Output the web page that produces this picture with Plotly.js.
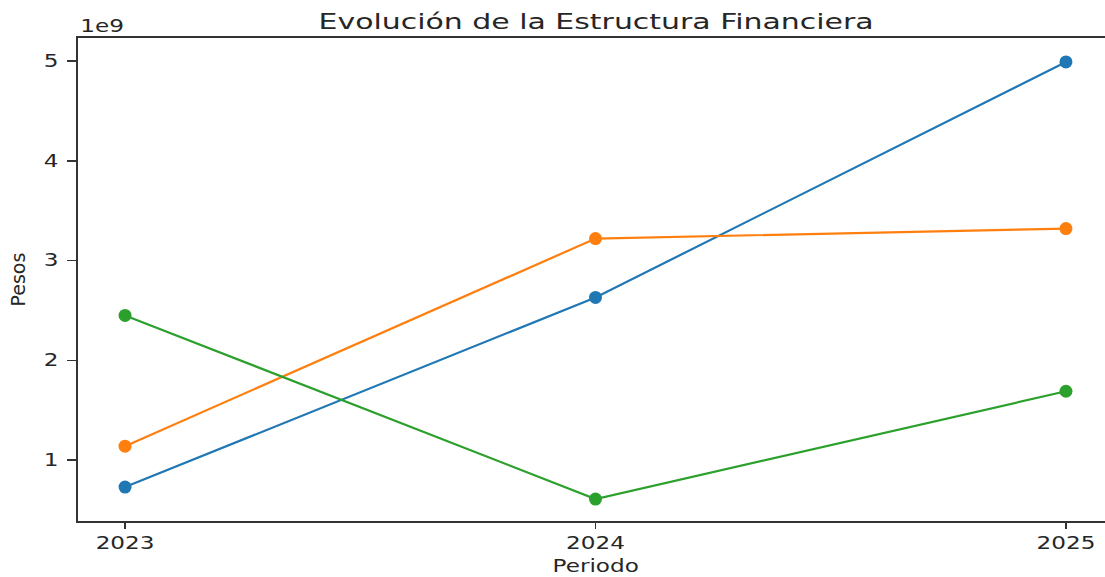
<!DOCTYPE html>
<html>
<head>
<meta charset="utf-8">
<script src="https://cdn.plot.ly/plotly-3.0.1.min.js"></script>
<style>html,body{margin:0;padding:0;background:#fff;}#chart{width:1105px;height:577px;}</style>
</head>
<body>
<div id="chart"></div>
<script>
const periodos = [2023, 2024, 2025];
const serieAzul = [0.73e9, 2.63e9, 4.99e9];
const serieNaranja = [1.14e9, 3.22e9, 3.32e9];
const serieVerde = [2.45e9, 0.61e9, 1.69e9];
const yTickVals = [1e9, 2e9, 3e9, 4e9, 5e9];
const yTickText = ['1', '2', '3', '4', '5'];
const xTickText = ['2023', '2024', '2025'];

const font = 'DejaVu Sans, sans-serif';
const ink = '#262626';
function tr(y, color, name) {
  return {x: periodos, y: y, name: name, type: 'scatter', mode: 'lines+markers',
    line: {color: color, width: 2.2}, marker: {color: color, size: 13}};
}
const data = [
  tr(serieAzul, '#1f77b4', 'Serie 1'),
  tr(serieNaranja, '#ff7f0e', 'Serie 2'),
  tr(serieVerde, '#2ca02c', 'Serie 3')
];
const layout = {
  width: 1105, height: 577,
  margin: {l: 78, r: 0, t: 38, b: 56},
  paper_bgcolor: '#fff', plot_bgcolor: '#fff',
  showlegend: false,
  font: {family: font, size: 17, color: ink},
  xaxis: {range: [2022.9, 2025.083], tickvals: periodos, ticktext: xTickText,
    showgrid: false, zeroline: false, showline: true, mirror: true, linecolor: '#333', linewidth: 2,
    ticks: 'outside', ticklen: 6, tickwidth: 1.5, tickcolor: '#333', tickfont: {family: font, size: 17, color: ink}},
  yaxis: {range: [0.39e9, 5.23e9], tickvals: yTickVals, ticktext: yTickText,
    showgrid: false, zeroline: false, showline: true, linecolor: '#333', linewidth: 2,
    ticks: 'outside', ticklen: 9, tickwidth: 1.5, tickcolor: '#333', ticklabelstandoff: 5,
    tickfont: {family: font, size: 17, color: ink}},
  annotations: [
    {text: 'Evolución de la Estructura Financiera', xref: 'x', x: 2024, yref: 'paper', y: 1,
      yanchor: 'bottom', yshift: 2, showarrow: false, font: {family: font, size: 22, color: ink}},
    {text: 'Periodo', xref: 'x', x: 2024, yref: 'paper', y: 0, yanchor: 'top', yshift: -33,
      showarrow: false, font: {family: font, size: 17, color: ink}},
    {text: 'Pesos', xref: 'paper', x: 0, xanchor: 'center', xshift: -61, yref: 'paper', y: 0.5,
      textangle: -90, showarrow: false, font: {family: font, size: 19, color: ink}},
    {text: '1e9', xref: 'paper', x: 0, xanchor: 'center', xshift: 24, yref: 'paper', y: 1, yanchor: 'bottom',
      showarrow: false, font: {family: font, size: 17, color: ink}}
  ]
};
function stretch(nodes, k) {
  nodes.forEach(t => {
    const L = t.getComputedTextLength();
    t.setAttribute('textLength', L * k);
    t.setAttribute('lengthAdjust', 'spacingAndGlyphs');
  });
}
Plotly.newPlot('chart', data, layout, {displayModeBar: false, staticPlot: true}).then(() => {
  const gd = document.getElementById('chart');
  stretch(gd.querySelectorAll('.xtick text, .ytick text'), 1.36);
  const ann = Array.from(gd.querySelectorAll('.annotation-text'))
    .filter(t => t.textContent !== 'Pesos');
  stretch(ann, 1.36);
});
</script>
</body>
</html>
